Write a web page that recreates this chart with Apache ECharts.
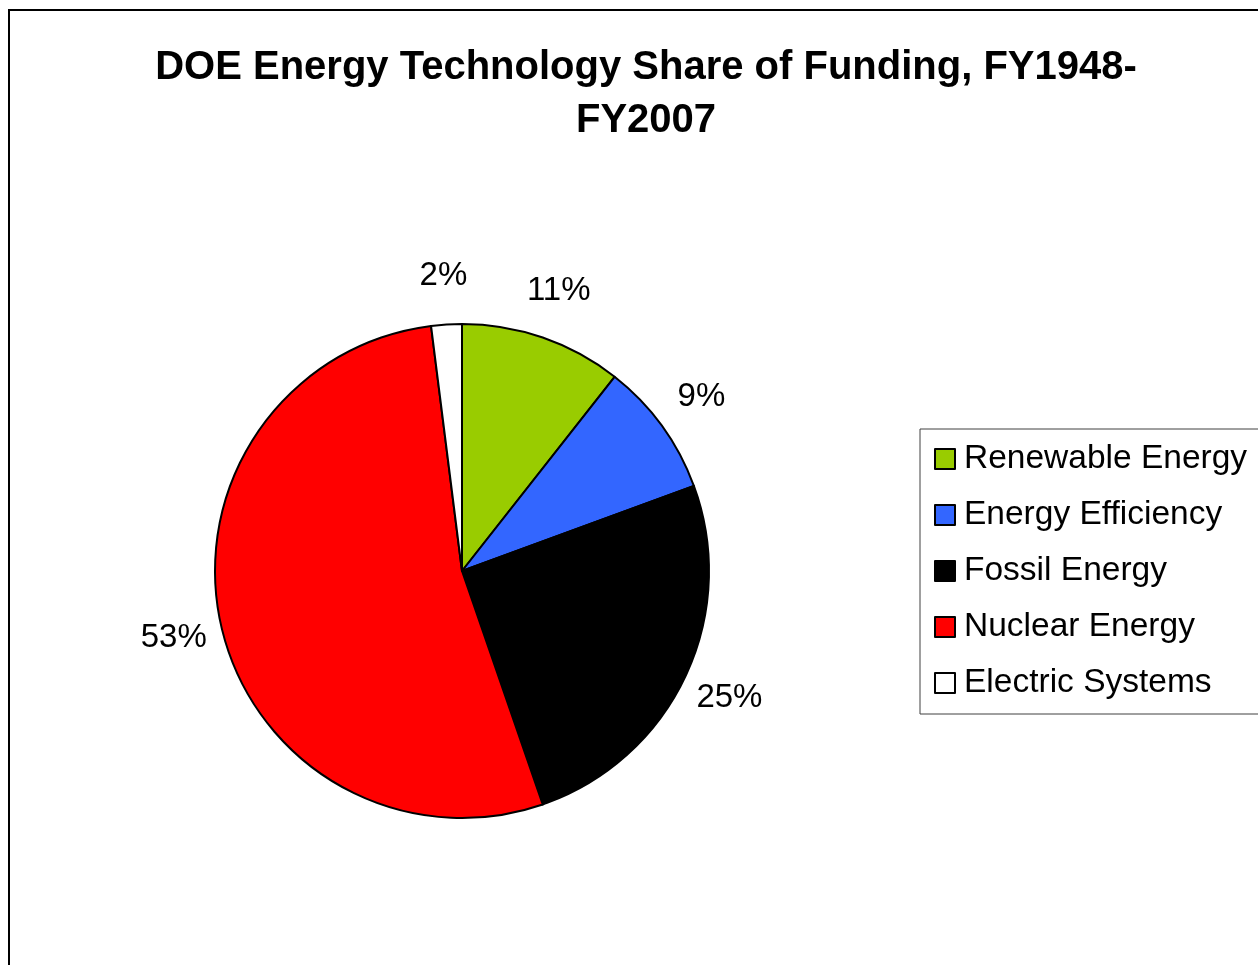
<!DOCTYPE html>
<html>
<head>
<meta charset="utf-8">
<title>DOE Energy Technology Share of Funding</title>
<script src="https://cdn.jsdelivr.net/npm/echarts@6/dist/echarts.min.js"></script>
<style>
  html, body { margin: 0; padding: 0; background: #fff; }
  #main { width: 1258px; height: 965px; }
</style>
</head>
<body>
<div id="main"></div>
<script>
// share of funding, percent
var categories = ['Renewable Energy', 'Energy Efficiency', 'Fossil Energy', 'Nuclear Energy', 'Electric Systems'];
var shares = [10.6, 8.8, 25.3, 53.3, 2.0];
var colors = ['#99CC00', '#3366FF', '#000000', '#FF0000', '#FFFFFF'];

var FONT = "'Liberation Sans', Arial, Helvetica, sans-serif";

var pieData = [];
for (var i = 0; i < categories.length; i++) {
  pieData.push({ name: categories[i], value: shares[i] });
}

var chart = echarts.init(document.getElementById('main'));

var option = {
  backgroundColor: '#fff',
  animation: false,
  color: colors,
  title: {
    text: 'DOE Energy Technology Share of Funding, FY1948-\nFY2007',
    left: 641,
    textAlign: 'center',
    top: 36,
    textStyle: {
      fontFamily: FONT,
      fontWeight: 'bold',
      fontSize: 40,
      lineHeight: 53,
      color: '#000'
    }
  },
  // chart area frame (only left/top edges fall inside the picture)
  graphic: [{
    type: 'rect',
    shape: { x: 9, y: 10, width: 1400, height: 1100 },
    style: { fill: 'none', stroke: '#000', lineWidth: 2 },
    silent: true
  }],
  legend: {
    orient: 'vertical',
    left: 920,
    top: 429,
    data: categories,
    icon: 'rect',
    itemWidth: 20,
    itemHeight: 20,
    itemGap: 20,
    padding: [12, 20, 13, 14],
    borderColor: '#404040',
    borderWidth: 1,
    selectedMode: false,
    itemStyle: { borderColor: '#000', borderWidth: 2 },
    textStyle: {
      fontFamily: FONT,
      fontSize: 33.5,
      lineHeight: 36,
      color: '#000',
      padding: [0, 0, 0, 4]
    }
  },
  series: [{
    type: 'pie',
    center: [462, 571],
    radius: 247,
    startAngle: 90,
    clockwise: true,
    data: pieData,
    silent: true,
    itemStyle: { borderColor: '#000', borderWidth: 2 },
    label: { show: false },
    labelLine: { show: false },
    emphasis: { disabled: true }
  }, {
    // invisible ring used only to centre the percentage labels outside the pie
    type: 'pie',
    center: [462, 571],
    radius: [247, 339],
    startAngle: 90,
    clockwise: true,
    data: pieData,
    silent: true,
    itemStyle: { color: 'rgba(0,0,0,0)', borderWidth: 0 },
    label: {
      show: true,
      position: 'inside',
      fontFamily: FONT,
      fontSize: 33,
      color: '#000',
      formatter: function (p) { return Math.round(p.percent) + '%'; }
    },
    labelLine: { show: false },
    emphasis: { disabled: true }
  }]
};

chart.setOption(option);
</script>
</body>
</html>
